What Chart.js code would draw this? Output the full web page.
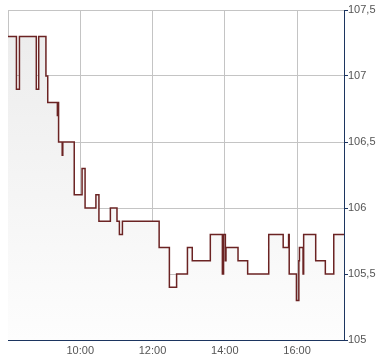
<!DOCTYPE html>
<html>
<head>
<meta charset="utf-8">
<script src="https://cdn.jsdelivr.net/npm/chart.js@4/dist/chart.umd.min.js"></script>
<style>
  html, body { margin: 0; padding: 0; background: #fff; }
  #wrap { width: 390px; height: 364px; }
</style>
</head>
<body>
<div id="wrap"><canvas id="priceChart" width="390" height="364"></canvas></div>
<script>
// Kurszeitpunkte (Beginn jeder Stufe) und Kurse
const times = [
  '8:00', '8:14', '8:19', '8:47', '8:51', '9:03', '9:06', '9:22', '9:23', '9:24',
  '9:30', '9:31', '9:50', '10:03', '10:08', '10:26', '10:31', '10:50', '11:01', '11:05',
  '11:10', '12:11', '12:28', '12:40', '12:58', '13:06', '13:36', '13:56', '13:58', '14:01',
  '14:02', '14:22', '14:38', '15:13', '15:37', '15:46', '15:47', '15:59', '16:03', '16:04',
  '16:10', '16:11', '16:31', '16:47', '17:01', '17:18'
];
const prices = [
  107.3, 106.9, 107.3, 106.9, 107.3, 107.0, 106.8, 106.7, 106.8, 106.5,
  106.4, 106.5, 106.1, 106.3, 106.0, 106.1, 105.9, 106.0, 105.9, 105.8,
  105.9, 105.7, 105.4, 105.5, 105.7, 105.6, 105.8, 105.5, 105.8, 105.6,
  105.7, 105.6, 105.5, 105.8, 105.7, 105.8, 105.5, 105.3, 105.6, 105.7,
  105.5, 105.8, 105.6, 105.5, 105.8, 105.8
];
const xTickHours = [8, 10, 12, 14, 16];
const xLabeledHours = [10, 12, 14, 16];
const yMin = 105, yMax = 107.5, yStep = 0.5;
const xMin = 8, xMax = 17.3;

function toHours(s) {
  const [h, m, sec] = s.split(':').map(Number);
  return h + m / 60 + (sec || 0) / 3600;
}

const points = times.map((t, i) => ({ x: toHours(t), y: prices[i] }));

const axisColor = '#1c3560';
const gridColor = '#c4c4c4';
const labelFont = { family: 'Liberation Sans, Arial, sans-serif', size: 11 };

new Chart(document.getElementById('priceChart'), {
  type: 'line',
  data: {
    datasets: [{
      data: points,
      stepped: 'before', // Kurs gilt bis zum naechsten Zeitpunkt
      borderColor: '#6b2323',
      borderWidth: 1.5,
      pointRadius: 0,
      fill: 'start',
      backgroundColor: (ctx) => {
        const area = ctx.chart.chartArea;
        if (!area) return '#f0f0f0';
        const g = ctx.chart.ctx.createLinearGradient(0, area.top, 0, area.bottom);
        g.addColorStop(0, '#ebebeb');
        g.addColorStop(1, '#fdfdfd');
        return g;
      }
    }]
  },
  options: {
    responsive: false,
    animation: false,
    layout: { padding: { left: 8, top: 10, right: 0, bottom: 0 } },
    plugins: { legend: { display: false }, tooltip: { enabled: false } },
    scales: {
      x: {
        type: 'linear',
        min: xMin,
        max: xMax,
        afterBuildTicks: (scale) => {
          scale.ticks = xTickHours.map(v => ({ value: v }));
        },
        afterFit: (scale) => { scale.height = 24; },
        grid: { color: gridColor, drawTicks: false },
        border: { color: axisColor, width: 1 },
        ticks: {
          color: '#555',
          font: labelFont,
          padding: 4,
          maxRotation: 0,
          autoSkip: false,
          callback: (v) => xLabeledHours.includes(v) ? v + ':00' : ''
        }
      },
      y: {
        position: 'right',
        min: yMin,
        max: yMax,
        afterFit: (scale) => { scale.width = 46; },
        grid: { color: gridColor, tickLength: 4, tickColor: axisColor },
        border: { color: axisColor, width: 1 },
        ticks: {
          stepSize: yStep,
          color: '#555',
          font: labelFont,
          padding: 0,
          callback: (v) => String(v).replace('.', ',')
        }
      }
    }
  }
});
</script>
</body>
</html>
